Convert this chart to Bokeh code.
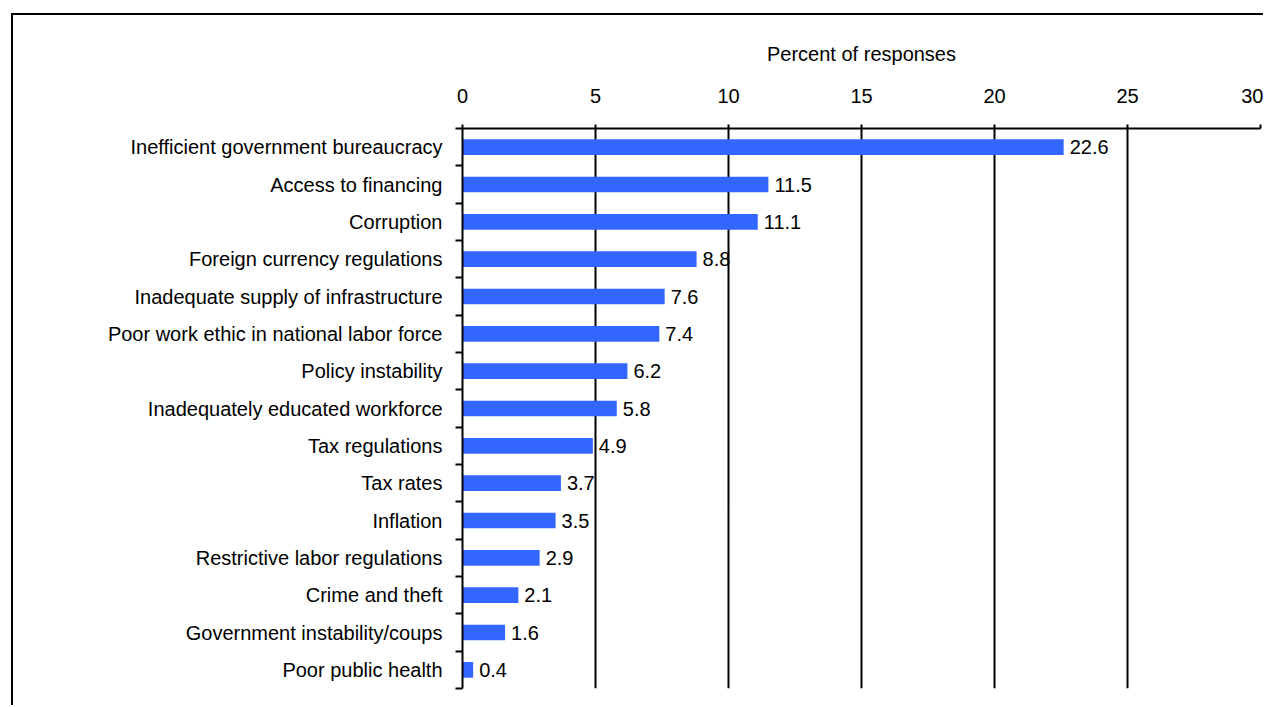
from bokeh.plotting import figure
from bokeh.models import ColumnDataSource, Range1d, FixedTicker
from bokeh.core.properties import value
from bokeh.embed import file_html
from bokeh.resources import INLINE

categories = [
    "Inefficient government bureaucracy",
    "Access to financing",
    "Corruption",
    "Foreign currency regulations",
    "Inadequate supply of infrastructure",
    "Poor work ethic in national labor force",
    "Policy instability",
    "Inadequately educated workforce",
    "Tax regulations",
    "Tax rates",
    "Inflation",
    "Restrictive labor regulations",
    "Crime and theft",
    "Government instability/coups",
    "Poor public health",
]
values = [22.6, 11.5, 11.1, 8.8, 7.6, 7.4, 6.2, 5.8, 4.9, 3.7, 3.5, 2.9, 2.1, 1.6, 0.4]
x_ticks = [0, 5, 10, 15, 20, 25, 30]
x_title = "Percent of responses"

n = len(categories)
pos = [i + 0.5 for i in range(n)]
labels = [f"{v:.1f}" for v in values]

FONT = "Liberation Sans"
FS = "20px"

src = ColumnDataSource(dict(y=pos, v=values, lab=labels, cat=categories))

p = figure(
    width=1252, height=692,
    x_range=Range1d(0, 30), y_range=Range1d(n, 0),
    x_axis_location="above",
    output_backend="svg", toolbar_location=None, tools="",
    min_border_left=449, min_border_top=113, min_border_right=5, min_border_bottom=19,
    margin=(13, 0, 0, 11),
    styles={"border-top": "2px solid #000", "border-left": "2px solid #000"},
)
p.outline_line_color = None
p.background_fill_color = "white"
p.border_fill_color = "white"

p.hbar(y="y", left=0, right="v", height=0.42, source=src,
       fill_color="#3366FF", line_color=None)
p.text(x="v", y="y", text="lab", source=src, x_offset=6,
       text_baseline="middle", text_align="left",
       text_font=value(FONT), text_font_size=FS, text_color="black")

# x axis (top)
xa = p.xaxis[0]
xa.ticker = FixedTicker(ticks=x_ticks)
xa.axis_label = x_title
xa.axis_label_text_font = FONT
xa.axis_label_text_font_size = FS
xa.axis_label_text_font_style = "normal"
xa.axis_label_text_color = "black"
xa.axis_label_standoff = 21
xa.major_label_text_font = FONT
xa.major_label_text_font_size = FS
xa.major_label_text_color = "black"
xa.major_label_standoff = 22
xa.major_tick_out = 4
xa.major_tick_in = 0
xa.minor_tick_out = 0
xa.minor_tick_in = 0
xa.axis_line_color = "black"
xa.axis_line_width = 2
xa.major_tick_line_color = "black"
xa.major_tick_line_width = 2

p.xgrid.ticker = FixedTicker(ticks=x_ticks)
p.xgrid.grid_line_color = "black"
p.xgrid.grid_line_width = 2
p.ygrid.grid_line_color = None

# y axis (left): labels at category centres, ticks at boundaries
ya = p.yaxis[0]
ya.ticker = FixedTicker(ticks=pos, minor_ticks=list(range(n + 1)))
ya.major_label_overrides = {pv: c for pv, c in zip(pos, categories)}
ya.major_label_text_font = FONT
ya.major_label_text_font_size = FS
ya.major_label_text_color = "black"
ya.major_label_standoff = 13
ya.major_tick_out = 0
ya.major_tick_in = 0
ya.minor_tick_out = 7
ya.minor_tick_in = 0
ya.minor_tick_line_color = "black"
ya.minor_tick_line_width = 2
ya.axis_line_color = "black"
ya.axis_line_width = 2

open("out.html", "w").write(file_html(p, INLINE))
